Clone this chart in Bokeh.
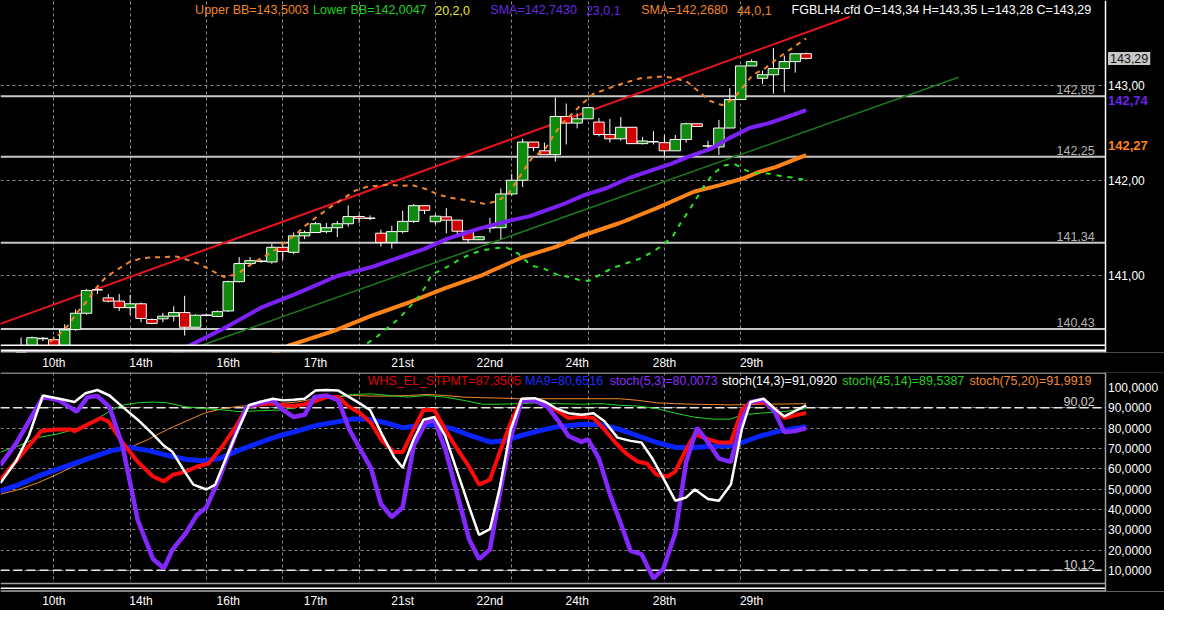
from bokeh.plotting import figure
from bokeh.layouts import column
from bokeh.models import ColumnDataSource, FixedTicker, Span, BoxAnnotation, Label
from bokeh.embed import file_html
from bokeh.resources import INLINE
from bokeh.core.properties import value

FONT = "Liberation Sans"

# ======================= DATA =======================
bars = list(range(-1, 72))
opens = [140.18, 140.21, 140.33, 140.316, 140.24, 140.423, 140.596, 140.845, 140.758, 140.724,
         140.655, 140.696, 140.530, 140.537, 140.565, 140.603, 140.448, 140.575, 140.562, 140.62,
         140.93, 141.121, 141.145, 141.138, 141.293, 141.24, 141.414, 141.449, 141.459, 141.50,
         141.542, 141.618, 141.60, 141.442, 141.345, 141.459, 141.567, 141.733, 141.563, 141.615,
         141.58, 141.463, 141.373, 141.50, 141.50, 141.857, 142.002, 142.406, 142.313, 142.272,
         142.676, 142.606, 142.651, 142.617, 142.485, 142.44, 142.562, 142.389, 142.41, 142.399,
         142.313, 142.433, 142.599, 142.364, 142.354, 142.554, 142.855, 143.21, 143.08, 143.117,
         143.183, 143.256, 143.34]
highs = [140.34, 140.35, 140.345, 140.35, 140.48, 140.637, 140.85, 140.86, 140.80, 140.80,
         140.79, 140.71, 140.54, 140.60, 140.67, 140.78, 140.585, 140.59, 140.625, 140.94,
         141.19, 141.19, 141.16, 141.33, 141.33, 141.45, 141.47, 141.56, 141.55, 141.57,
         141.735, 141.64, 141.63, 141.48, 141.52, 141.68, 141.75, 141.74, 141.645, 141.708,
         141.58, 141.463, 141.41, 141.604, 141.915, 142.07, 142.44, 142.406, 142.40, 142.876,
         142.813, 142.71, 142.769, 142.66, 142.65, 142.67, 142.562, 142.46, 142.52, 142.48,
         142.48, 142.61, 142.60, 142.42, 142.64, 142.976, 143.21, 143.28, 143.159, 143.40,
         143.32, 143.34, 143.35]
lows = [140.15, 140.19, 140.30, 140.20, 140.22, 140.41, 140.58, 140.80, 140.71, 140.62,
        140.58, 140.50, 140.48, 140.50, 140.51, 140.36, 140.448, 140.565, 140.555, 140.61,
        140.92, 141.09, 141.13, 141.12, 141.16, 141.22, 141.38, 141.449, 141.44, 141.40,
        141.51, 141.55, 141.58, 141.30, 141.28, 141.44, 141.55, 141.645, 141.535, 141.44,
        141.43, 141.345, 141.37, 141.449, 141.38, 141.84, 141.93, 142.31, 142.272, 142.20,
        142.38, 142.55, 142.651, 142.465, 142.40, 142.42, 142.389, 142.38, 142.38, 142.26,
        142.313, 142.40, 142.571, 142.33, 142.27, 142.554, 142.85, 143.21, 143.02, 142.917,
        142.93, 143.14, 143.28]
closes = [140.22, 140.337, 140.33, 140.23, 140.42, 140.596, 140.837, 140.845, 140.724, 140.655,
          140.696, 140.541, 140.489, 140.565, 140.603, 140.448, 140.575, 140.575, 140.613, 140.93,
          141.121, 141.152, 141.145, 141.293, 141.249, 141.414, 141.449, 141.542, 141.50, 141.542,
          141.618, 141.60, 141.60, 141.345, 141.459, 141.567, 141.733, 141.684, 141.622, 141.58,
          141.463, 141.373, 141.404, 141.50, 141.857, 142.002, 142.406, 142.347, 142.272, 142.676,
          142.606, 142.651, 142.769, 142.485, 142.44, 142.562, 142.389, 142.417, 142.41, 142.313,
          142.433, 142.599, 142.571, 142.364, 142.554, 142.855, 143.21, 143.256, 143.117, 143.183,
          143.256, 143.339, 143.29]

ubb_x = [1.0, 1.45, 2.35, 3.25, 4.16, 5.0, 5.9, 6.8, 7.9, 8.9, 10.0, 11.1, 12.2, 13.2, 14.4, 15.4,
         16.5, 17.6, 18.8, 19.9, 20.9, 22.0, 23.0, 24.1, 25.1, 26.3, 27.4, 28.45, 29.6, 30.65, 31.8,
         32.8, 33.9, 34.9, 36.1, 37.2, 38.2, 39.3, 40.35, 41.5, 42.6, 43.7, 44.9, 45.9, 47.0, 47.7,
         48.5, 49.5, 50.6, 51.5, 52.6, 53.6, 54.6, 55.8, 56.9, 57.9, 59.0, 60.1, 61.15, 62.2, 63.3,
         64.3, 65.2, 66.1, 67.2, 68.2, 69.3, 70.4, 71.0]
ubb = [140.22, 140.275, 140.357, 140.46, 140.606, 140.72, 140.865, 140.98, 141.062, 141.135,
       141.176, 141.187, 141.19, 141.197, 141.155, 141.114, 141.045, 140.98, 141.007, 141.10,
       141.17, 141.24, 141.33, 141.42, 141.525, 141.63, 141.72, 141.80, 141.89, 141.93,
       141.946, 141.956, 141.943, 141.95, 141.909, 141.853, 141.82, 141.80, 141.777, 141.753,
       141.777, 141.857, 142.07, 142.244, 142.32, 142.45, 142.59, 142.70, 142.824, 142.917,
       142.96, 143.005, 143.04, 143.08, 143.09, 143.10, 143.08, 143.04, 142.94, 142.84,
       142.796, 142.858, 142.987, 143.114, 143.183, 143.273, 143.366, 143.453, 143.50]
lbb_x = [30.0, 30.6, 31.6, 32.6, 33.7, 34.7, 35.5, 36.2, 36.6, 37.1, 38.3, 39.3, 40.3, 41.3, 42.5,
         43.5, 44.6, 45.8, 46.9, 48.1, 49.2, 50.2, 51.07, 52.3, 53.3, 54.4, 55.6, 56.6, 57.8, 58.8,
         59.5, 60.3, 61.0, 61.7, 62.4, 63.4, 64.4, 65.5, 66.4, 67.6, 68.7, 69.7, 70.8, 71.0]
lbb = [140.20, 140.267, 140.344, 140.44, 140.544, 140.672, 140.775, 140.896, 141.0, 141.028,
       141.10, 141.17, 141.225, 141.26, 141.283, 141.293, 141.225, 141.10, 141.07, 141.007,
       140.982, 140.948, 140.938, 141.018, 141.076, 141.12, 141.166, 141.225, 141.31, 141.414,
       141.552, 141.69, 141.82, 141.95, 142.06, 142.157, 142.174, 142.106, 142.078, 142.07,
       142.047, 142.03, 142.008, 142.005]
sma23_x = [13, 14.5, 17.5, 21, 24.2, 28, 31.2, 34.3, 36, 38, 41, 44, 45.6, 48.6, 50.7, 52.6, 55,
           56.8, 58.6, 60.4, 62.2, 64, 65.8, 67.6, 69.4, 71]
sma23 = [140.17, 140.257, 140.43, 140.655, 140.80, 140.99, 141.086, 141.21, 141.277, 141.38,
         141.49, 141.58, 141.62, 141.743, 141.847, 141.915, 142.036, 142.106, 142.174, 142.26,
         142.33, 142.45, 142.554, 142.606, 142.676, 142.743]
sma44_x = [22, 23.6, 27.7, 31.1, 34.5, 37.9, 41.3, 45.0, 48.1, 50.3, 53.9, 55.0, 57.3, 60.7, 63.1,
           65.2, 66.7, 68.2, 69.7, 71]
sma44 = [140.16, 140.257, 140.41, 140.568, 140.707, 140.862, 141.0, 141.19, 141.30, 141.41,
         141.55, 141.60, 141.708, 141.88, 141.95, 142.02, 142.09, 142.14, 142.21, 142.268]
trend_red_x = [-3, 75]
trend_red = [140.48, 143.73]
trend_green_x = [10, 85]
trend_green = [140.03, 143.09]
levels = [142.89, 142.25, 141.34, 140.43]
level_labels = ["142,89", "142,25", "141,34", "140,43"]
last_close = 143.29
sma23_last = 142.743
sma44_last = 142.268

day_ticks = [2, 10, 18, 26, 34, 42, 50, 58, 66]
day_labels = ["10th", "14th", "16th", "17th", "21st", "22nd", "24th", "28th", "29th"]
grid_ticks = [2, 9, 16, 23, 30, 37, 44, 51, 58, 65]
price_ticks = [141, 142, 143]
price_tick_labels = ["141,00", "142,00", "143,00"]

top_legend_text = ["Upper BB=143,5003", "Lower BB=142,0047", "20,2,0", "SMA=142,7430", "23,0,1",
                   "SMA=142,2680", "44,0,1", "FGBLH4.cfd O=143,34 H=143,35 L=143,28 C=143,29"]

# ---- oscillator panel ----
osc_ticks = [10, 20, 30, 40, 50, 60, 70, 80, 90, 100]
osc_tick_labels = ["10,0000", "20,0000", "30,0000", "40,0000", "50,0000", "60,0000",
                   "70,0000", "80,0000", "90,0000", "100,0000"]
osc_grid = [10, 20, 30, 40, 50, 60, 70, 80, 90]
osc_levels = [90.02, 10.12]
osc_level_labels = ["90,02", "10,12"]

stpmt_x = [-2.9, -1.0, 0.85, 2.2, 3.6, 3.9, 6.3, 7.0, 8.3, 9.7, 11.1, 12.1, 12.9, 14.1, 15.1, 16.2,
           17.5, 18.9, 19.7, 20.9, 22.1, 23.0, 24.0, 25.0, 26.0, 27.0, 28.1, 29.1, 30.1, 31.1, 32.1,
           33.2, 34.0, 35.0, 35.9, 36.9, 37.9, 39.0, 40.0, 41.0, 42.0, 42.9, 43.9, 44.9, 46.1, 47.1,
           48.1, 49.2, 50.4, 51.5, 52.5, 53.5, 54.5, 55.6, 56.4, 57.3, 58.3, 59.0, 60.0, 60.8, 62.0,
           63.0, 64.1, 65.1, 65.9, 67.1, 68.1, 69.0, 70.2, 71.0]
stpmt = [54.6, 66.6, 78.5, 79.3, 79.3, 78.5, 84.9, 83.3, 72.9, 63.4, 56.2, 53.8, 57.0, 58.6, 61.0,
         62.6, 71.3, 82.5, 90.4, 91.7, 92.0, 91.2, 90.8, 91.7, 93.3, 95.2, 95.2, 90.4, 87.3, 82.5,
         73.7, 68.2, 68.2, 79.3, 88.9, 88.9, 79.3, 69.7, 61.8, 52.2, 54.6, 68.2, 82.5, 93.9, 93.9,
         92.0, 88.9, 84.9, 85.7, 84.9, 79.3, 72.9, 67.4, 63.4, 62.6, 57.0, 56.2, 58.6, 69.7, 76.9,
         74.5, 72.9, 72.9, 88.9, 92.8, 92.4, 89.6, 84.9, 86.5, 87.35]
ma9_x = [-2.9, -1.2, 0.5, 2.2, 3.9, 5.6, 7.3, 9.0, 10.7, 12.4, 14.1, 15.8, 17.2, 18.9, 20.9, 22.6,
         24.3, 26.0, 27.7, 29.4, 30.8, 32.5, 34.0, 35.2, 36.9, 38.6, 40.3, 42.0, 43.4, 44.7, 46.4,
         48.1, 50.4, 52.2, 53.9, 55.6, 57.3, 59.0, 60.7, 62.4, 64.1, 65.1, 66.8, 68.5, 71.0]
ma9 = [49.0, 52.2, 56.2, 59.4, 62.6, 65.8, 68.9, 70.5, 68.9, 66.6, 64.6, 63.9, 65.0, 68.9, 72.9,
       76.1, 78.5, 81.2, 82.8, 84.4, 84.4, 82.5, 80.1, 80.9, 81.7, 79.6, 76.1, 73.2, 73.7, 76.1,
       78.5, 80.6, 81.7, 81.7, 79.3, 76.1, 72.9, 70.5, 70.5, 71.0, 71.3, 72.9, 76.1, 78.5, 80.65]
stoch5_x = [-2.9, -1.5, 1.0, 2.5, 4.1, 5.1, 6.0, 7.1, 8.3, 9.7, 11.1, 12.1, 12.9, 14.1, 15.1, 16.0,
            17.2, 18.5, 19.7, 20.9, 22.1, 23.0, 24.0, 25.0, 25.9, 27.0, 28.1, 29.1, 30.1, 31.1,
            32.0, 33.0, 34.0, 35.0, 36.1, 36.9, 37.9, 39.0, 40.1, 41.0, 42.0, 42.9, 43.9, 44.9,
            46.1, 47.3, 48.3, 49.2, 50.4, 51.0, 52.0, 53.0, 54.0, 54.9, 55.9, 57.0, 57.9, 59.0,
            60.0, 61.0, 62.0, 63.0, 64.1, 65.1, 65.9, 67.1, 68.1, 69.0, 70.0, 71.0]
stoch5 = [61.8, 72.1, 95.2, 93.6, 88.1, 95.2, 95.7, 90.4, 71.3, 34.7, 15.6, 11.1, 20.4, 28.3, 37.1,
          41.1, 55.4, 74.5, 90.4, 92.4, 93.6, 88.9, 85.4, 86.5, 95.2, 96.0, 93.6, 79.3, 69.7, 60.2,
          42.7, 36.3, 41.1, 71.3, 82.5, 84.1, 69.7, 47.5, 25.2, 15.6, 20.4, 47.5, 75.3, 93.3, 93.6,
          90.4, 83.3, 76.1, 73.2, 74.5, 65.0, 47.5, 33.1, 19.6, 18.0, 6.1, 10.8, 28.3, 63.4, 80.1,
          72.9, 65.0, 63.4, 84.1, 92.8, 93.9, 88.1, 78.0, 78.5, 80.0]
stoch14_x = [-2.9, -1.5, -0.3, 1.0, 2.5, 3.9, 4.9, 6.0, 7.1, 8.3, 9.7, 11.1, 12.1, 12.9, 14.0, 14.8,
             16.0, 16.8, 17.9, 18.9, 19.9, 20.9, 22.1, 23.0, 24.0, 25.0, 26.0, 27.0, 28.1, 29.1,
             30.1, 31.0, 32.1, 33.2, 34.0, 35.0, 35.9, 36.9, 37.9, 39.0, 40.1, 41.0, 42.0, 42.9,
             43.9, 44.9, 46.1, 47.1, 48.1, 49.2, 50.4, 51.5, 52.5, 53.7, 54.9, 55.9, 56.9, 57.9,
             59.0, 60.0, 60.8, 62.0, 63.0, 64.1, 65.1, 65.9, 67.1, 68.1, 69.0, 70.2, 71.0]
stoch14 = [53.0, 63.4, 76.1, 96.0, 94.4, 92.8, 97.1, 98.7, 96.0, 90.4, 84.1, 76.9, 71.3, 68.2, 58.6,
           52.2, 49.8, 52.2, 66.6, 79.3, 91.2, 92.8, 94.4, 93.6, 93.9, 94.4, 98.4, 98.7, 98.4, 95.2,
           92.0, 88.9, 76.9, 65.8, 60.5, 74.5, 84.1, 85.4, 76.1, 58.6, 41.1, 27.5, 30.3, 50.6, 79.3,
           94.4, 94.7, 92.8, 89.6, 87.3, 86.5, 87.3, 83.3, 75.3, 73.7, 72.9, 65.0, 55.4, 44.3, 45.9,
           49.8, 45.1, 44.3, 52.2, 79.3, 92.8, 94.4, 89.6, 85.7, 88.9, 91.09]
stoch45_x = [-2.9, -1.2, 0.5, 2.2, 3.9, 5.6, 7.3, 8.3, 9.7, 11.1, 12.4, 14.1, 15.8, 17.5, 18.9, 20.9,
             23.0, 24.3, 26.0, 27.7, 29.4, 31.1, 32.8, 34.5, 36.2, 37.9, 39.6, 41.3, 43.0, 44.7,
             46.4, 48.1, 50.4, 52.2, 53.9, 55.6, 57.3, 59.0, 60.7, 62.4, 64.1, 65.1, 66.8, 69.0, 71.0]
stoch45 = [68.2, 71.3, 75.3, 76.9, 79.3, 83.3, 88.9, 91.2, 92.4, 92.8, 92.4, 90.4, 89.6, 88.9, 88.1,
           88.5, 88.9, 90.4, 93.6, 95.2, 96.5, 96.8, 96.0, 95.2, 96.0, 95.2, 93.6, 91.7, 91.7, 92.0,
           92.4, 92.0, 91.7, 92.0, 91.2, 90.8, 89.6, 87.3, 85.4, 84.4, 84.4, 86.5, 87.3, 88.1, 89.54]
stoch75_x = [-2.9, -1.2, 0.5, 2.2, 3.9, 5.6, 7.3, 9.0, 10.7, 12.4, 14.1, 15.8, 17.5, 19.2, 20.9, 22.6,
             24.3, 26.0, 27.7, 29.4, 31.1, 32.8, 34.5, 36.2, 37.9, 39.6, 41.3, 43.0, 44.7, 48.1,
             50.4, 53.9, 55.6, 57.3, 59.0, 60.7, 64.1, 67.5, 71.0]
stoch75 = [47.5, 49.8, 53.0, 57.0, 61.5, 65.0, 68.2, 70.5, 74.5, 79.3, 83.3, 87.3, 89.6, 90.8, 91.2,
           92.0, 92.8, 94.4, 95.2, 96.0, 95.7, 95.7, 96.0, 96.5, 96.0, 95.2, 94.9, 94.7, 94.4, 94.4,
           94.4, 94.4, 93.6, 92.4, 92.0, 91.7, 91.4, 91.7, 91.99]

osc_legend_text = ["WHS_EL_STPMT=87,3505", "MA9=80,6516", "stoch(5,3)=80,0073",
                   "stoch(14,3)=91,0920", "stoch(45,14)=89,5387", "stoch(75,20)=91,9919"]

# ======================= LAYOUT / STYLE =======================
FRAME_W = 1164
X_RANGE = (-2.89, 103.87)      # chart area ends at BORDER_X, the rest is the price scale
BORDER_X = 98.46
SCALE_X = 98.69
GRID_COLOR = "#8a8a8a"
UP, DOWN = "#0f8a0f", "#d00000"

top_legend_x = [14.96, 25.77, 36.98, 42.04, 50.8, 55.88, 64.65, 69.67]
top_legend_y = 143.80
top_legend_color = ["#f0862a", "#22d022", "#e6e62e", "#6a28e0", "#6a28e0", "#f0862a", "#f0862a", "#ffffff"]
osc_legend_x = [30.79, 45.21, 52.98, 63.29, 74.32, 85.99]
osc_legend_y = 103.0
osc_legend_color = ["#e00000", "#1e2cff", "#8a2cff", "#ffffff", "#22d022", "#f08a30"]
LABEL_RIGHT_X = 97.47


def base_figure(frame_h, y_range, border_bottom, standoff, grid_y):
    p = figure(frame_width=FRAME_W, frame_height=frame_h, x_range=X_RANGE, y_range=y_range,
               y_axis_location=None, toolbar_location=None, output_backend="svg",
               background_fill_color="black", border_fill_color="black", outline_line_color=None,
               min_border_left=0, min_border_right=0, min_border_top=0,
               min_border_bottom=border_bottom)
    ax = p.xaxis[0]
    ax.ticker = FixedTicker(ticks=day_ticks)
    ax.major_label_overrides = dict(zip(day_ticks, day_labels))
    ax.major_tick_line_color = None
    ax.minor_tick_line_color = None
    ax.major_tick_out = 0
    ax.major_tick_in = 0
    ax.axis_line_color = None
    ax.major_label_text_color = "white"
    ax.major_label_text_font = FONT
    ax.major_label_text_font_size = "12px"
    ax.major_label_standoff = standoff
    p.xgrid.ticker = FixedTicker(ticks=grid_ticks)
    p.ygrid.ticker = FixedTicker(ticks=grid_y)
    for g in list(p.xgrid) + list(p.ygrid):
        g.grid_line_color = GRID_COLOR
        g.grid_line_dash = "3 3"
        g.grid_line_width = 1
    return p


def scale_labels(p, ticks, labels):
    for t, lab in zip(ticks, labels):
        p.add_layout(Label(x=SCALE_X, y=t, text=lab, text_baseline="middle", text_align="left",
                           text_color="white", text_font=FONT, text_font_size="12px",
                           level="overlay"))


# ---------------- top price panel ----------------
p1 = base_figure(352, (140.181, 143.902), 18, 3, price_ticks)

for lv in levels:
    p1.add_layout(Span(location=lv, dimension="width", line_color="#c8c8c8", line_width=2,
                       level="underlay"))

p1.line(trend_red_x, trend_red, line_color="#e8141c", line_width=2)
p1.line(trend_green_x, trend_green, line_color="#1c7a1c", line_width=1.5)

body = dict(x=[], top=[], bottom=[], color=[])
doji = dict(x0=[], x1=[], y=[])
for b, o, c in zip(bars, opens, closes):
    if c == o:
        doji["x0"].append(b - 0.48)
        doji["x1"].append(b + 0.48)
        doji["y"].append(c)
    else:
        body["x"].append(b)
        body["top"].append(max(o, c))
        body["bottom"].append(min(o, c))
        body["color"].append(UP if c > o else DOWN)
p1.segment(x0=bars, y0=lows, x1=bars, y1=highs, line_color="white", line_width=1)
p1.vbar(x="x", top="top", bottom="bottom", width=0.96, fill_color="color", line_color="white",
        line_width=1, source=ColumnDataSource(body))
p1.segment(x0="x0", y0="y", x1="x1", y1="y", line_color="white", line_width=1.5,
           source=ColumnDataSource(doji))

p1.line(sma44_x, sma44, line_color="#ff8418", line_width=4)
p1.line(sma23_x, sma23, line_color="#7c22f8", line_width=4)
p1.line(ubb_x, ubb, line_color="#f0862a", line_width=2, line_dash="5 5")
p1.line(lbb_x, lbb, line_color="#26e626", line_width=2, line_dash="5 6")

p1.text(x="x", y="y", text="text", text_color="color",
        source=ColumnDataSource(dict(x=top_legend_x, y=[top_legend_y] * len(top_legend_text),
                                     text=top_legend_text, color=top_legend_color)),
        text_font=value(FONT), text_font_size="12.5px", text_baseline="middle", text_align="left")
p1.text(x=[LABEL_RIGHT_X] * len(levels), y=[lv + 0.02 for lv in levels], text=level_labels,
        text_color="#b4b4b4", text_font=value(FONT), text_font_size="12.5px",
        text_baseline="bottom", text_align="right")

# bottom strip of the price panel and the price-scale area
p1.add_layout(BoxAnnotation(top=140.257, fill_color="black", fill_alpha=1, line_color=None,
                            level="overlay"))
for loc in (140.257, 140.205, 140.187):
    p1.add_layout(Span(location=loc, dimension="width", line_color="white", line_width=1.5,
                       level="overlay"))
p1.add_layout(BoxAnnotation(left=BORDER_X, fill_color="black", fill_alpha=1, line_color=None,
                            level="overlay"))
p1.add_layout(Span(location=BORDER_X, dimension="height", line_color="white", line_width=1.5,
                   level="overlay"))
scale_labels(p1, price_ticks, price_tick_labels)
p1.add_layout(Label(x=SCALE_X, y=last_close, text="143,29", text_baseline="middle",
                    text_color="#111111", background_fill_color="#c8c8c8", text_font=FONT,
                    text_font_size="12.5px", padding=2, level="overlay"))
p1.add_layout(Label(x=SCALE_X, y=sma23_last + 0.10, text="142,74", text_baseline="middle",
                    text_color="#7022ee", text_font=FONT, text_font_size="13px",
                    text_font_style="bold", level="overlay"))
p1.add_layout(Label(x=SCALE_X, y=sma44_last + 0.097, text="142,27", text_baseline="middle",
                    text_color="#ff8418", text_font=FONT, text_font_size="13px",
                    text_font_style="bold", level="overlay"))

# ---------------- oscillator panel ----------------
p2 = base_figure(219, (-0.33, 107.3), 17, 2, osc_grid)
p2.x_range = p1.x_range

for lv in osc_levels:
    p2.add_layout(Span(location=lv, dimension="width", line_color="#e8e8e8", line_width=1.5,
                       line_dash="9 4", level="underlay"))

p2.line(stoch75_x, stoch75, line_color="#f08a30", line_width=1)
p2.line(stoch45_x, stoch45, line_color="#22d822", line_width=1)
p2.line(ma9_x, ma9, line_color="#0a24ff", line_width=5)
p2.line(stpmt_x, stpmt, line_color="#ff0a0a", line_width=4)
p2.line(stoch5_x, stoch5, line_color="#8428ff", line_width=4.5)
p2.line(stoch14_x, stoch14, line_color="#ffffff", line_width=2.5)

p2.text(x="x", y="y", text="text", text_color="color",
        source=ColumnDataSource(dict(x=osc_legend_x, y=[osc_legend_y] * len(osc_legend_text),
                                     text=osc_legend_text, color=osc_legend_color)),
        text_font=value(FONT), text_font_size="12.5px", text_baseline="middle", text_align="left")
p2.text(x=[LABEL_RIGHT_X] * len(osc_levels), y=[lv + 0.8 for lv in osc_levels],
        text=osc_level_labels, text_color="#d0d0d0", text_font=value(FONT),
        text_font_size="12.5px", text_baseline="bottom", text_align="right")

p2.add_layout(BoxAnnotation(top=3.63, fill_color="black", fill_alpha=1, line_color=None,
                            level="overlay"))
p2.add_layout(Span(location=3.63, dimension="width", line_color="#a0a0a0", line_width=1.5,
                   level="overlay"))
for loc in (1.24, -0.2):
    p2.add_layout(Span(location=loc, dimension="width", line_color="white", line_width=1.5,
                       level="overlay"))
p2.add_layout(Span(location=107.0, dimension="width", line_color="#a0a0a0", line_width=1.5,
                   level="overlay"))
p2.add_layout(BoxAnnotation(left=BORDER_X, fill_color="black", fill_alpha=1, line_color=None,
                            level="overlay"))
p2.add_layout(Span(location=BORDER_X, dimension="height", line_color="#a0a0a0", line_width=1.5,
                   level="overlay"))
scale_labels(p2, osc_ticks, osc_tick_labels)

layout = column(p1, p2, spacing=0, styles={"background-color": "black"})
open("out.html", "w").write(file_html(layout, INLINE))
